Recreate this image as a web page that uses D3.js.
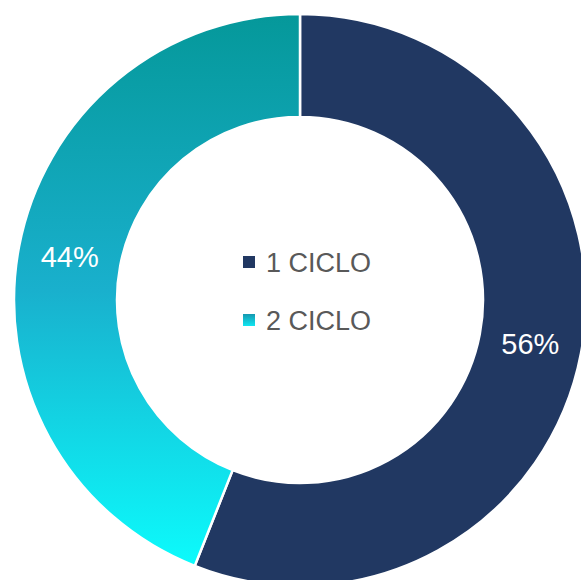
<!DOCTYPE html>
<html><head><meta charset="utf-8">
<script src="https://cdn.jsdelivr.net/npm/d3@7"></script>
<style>html,body{margin:0;padding:0;background:#fff;overflow:hidden}</style>
</head><body>
<svg id="chart" width="581" height="580"></svg>
<script>
const categories = ["1 CICLO", "2 CICLO"];
const values = [56, 44];
const labels = ["56%", "44%"];

const svg = d3.select("#chart");
const cx = 300, cy = 300, outerR = 286, innerR = 183;
const defs = svg.append("defs");
const grad = defs.append("linearGradient").attr("id", "g2")
  .attr("gradientUnits", "userSpaceOnUse")
  .attr("x1", 0).attr("y1", -outerR).attr("x2", 0).attr("y2", 266);
grad.append("stop").attr("offset", "0%").attr("stop-color", "#05989A");
grad.append("stop").attr("offset", "50%").attr("stop-color", "#19B0CD");
grad.append("stop").attr("offset", "100%").attr("stop-color", "#0CFBFC");
const gradL = defs.append("linearGradient").attr("id", "gl").attr("x1", 0).attr("y1", 0).attr("x2", 0).attr("y2", 1);
gradL.append("stop").attr("offset", "0%").attr("stop-color", "#1698B0");
gradL.append("stop").attr("offset", "100%").attr("stop-color", "#10E6F2");
const fills = ["#213862", "url(#g2)"];
const legendFills = ["#213862", "url(#gl)"];

const pie = d3.pie().sort(null).value(d => d)(values);
const arc = d3.arc().innerRadius(innerR).outerRadius(outerR);
const g = svg.append("g").attr("transform", `translate(${cx},${cy})`);
g.selectAll("path").data(pie).join("path")
  .attr("d", arc).attr("fill", (d, i) => fills[i])
  .attr("stroke", "#fff").attr("stroke-width", 2.5);
g.selectAll("text.lbl").data(pie).join("text").attr("class", "lbl")
  .attr("transform", d => `translate(${arc.centroid(d)})`)
  .attr("text-anchor", "middle").attr("dy", "0.36em")
  .attr("fill", "#fff").attr("font-family", "Liberation Sans, Arial, sans-serif")
  .attr("font-size", 29).text((d, i) => labels[i]);

const leg = svg.append("g");
const legY = d3.scaleBand().domain(categories).range([233, 349]);
categories.forEach((c, i) => {
  const y = legY(c) + legY.bandwidth() / 2;
  leg.append("rect").attr("x", 243).attr("y", y - 6).attr("width", 12).attr("height", 12).attr("fill", legendFills[i]);
  leg.append("text").attr("x", 266).attr("y", y).attr("dy", "0.36em")
    .attr("fill", "#595959").attr("font-family", "Liberation Sans, Arial, sans-serif")
    .attr("font-size", 27).text(c);
});
</script>
</body></html>
